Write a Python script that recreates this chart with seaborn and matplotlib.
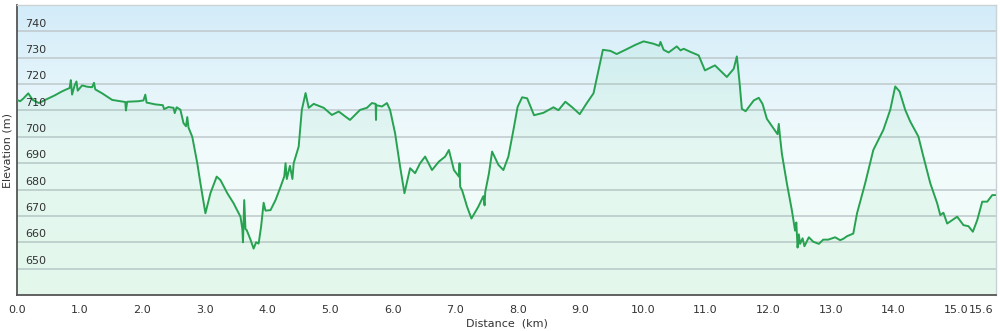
import numpy as np
import matplotlib
matplotlib.use("Agg")
import matplotlib.pyplot as plt
from matplotlib.colors import LinearSegmentedColormap
import seaborn as sns

# ---- data ----
distance_km = [
    0.00, 0.05, 0.10, 0.18, 0.25, 0.35, 0.45, 0.61, 0.70, 0.77, 0.84, 0.86, 0.88, 0.92, 0.95, 0.97,
    1.04, 1.12, 1.20, 1.23, 1.25, 1.36, 1.52, 1.65, 1.73, 1.74, 1.76, 1.94, 2.02, 2.05, 2.07, 2.21,
    2.33, 2.35, 2.42, 2.50, 2.52, 2.55, 2.61, 2.66, 2.70, 2.72, 2.74, 2.80, 2.88, 2.93, 3.01, 3.09,
    3.19, 3.25, 3.36, 3.46, 3.57, 3.60, 3.61, 3.63, 3.65, 3.67, 3.73, 3.78, 3.82, 3.86, 3.90, 3.94,
    3.97, 4.05, 4.13, 4.21, 4.27, 4.29, 4.31, 4.36, 4.40, 4.42, 4.50, 4.55, 4.61, 4.66, 4.74, 4.90,
    5.03, 5.14, 5.245, 5.32, 5.48, 5.59, 5.67, 5.73, 5.735, 5.74, 5.83, 5.91, 5.96, 6.04, 6.12, 6.19,
    6.28, 6.36, 6.44, 6.52, 6.63, 6.74, 6.84, 6.90, 6.98, 7.06, 7.07, 7.08, 7.11, 7.19, 7.26, 7.37,
    7.45, 7.47, 7.48, 7.54, 7.59, 7.69, 7.77, 7.85, 7.93, 7.998, 8.07, 8.15, 8.26, 8.41, 8.57, 8.65,
    8.76, 8.87, 8.99, 9.10, 9.21, 9.29, 9.36, 9.48, 9.58, 9.72, 9.88, 10.01, 10.17, 10.26, 10.28, 10.33,
    10.41, 10.54, 10.60, 10.65, 10.76, 10.89, 10.99, 11.15, 11.34, 11.45, 11.50, 11.54, 11.58, 11.64, 11.77, 11.85,
    11.91, 11.98, 12.09, 12.15, 12.17, 12.19, 12.22, 12.30, 12.38, 12.43, 12.45, 12.47, 12.49, 12.51, 12.55, 12.58,
    12.65, 12.72, 12.81, 12.88, 12.96, 13.07, 13.15, 13.20, 13.26, 13.36, 13.42, 13.55, 13.68, 13.84, 13.95, 14.03,
    14.10, 14.19, 14.27, 14.40, 14.48, 14.59, 14.70, 14.75, 14.80, 14.86, 15.02, 15.12, 15.20, 15.27, 15.34, 15.42,
    15.50, 15.58, 15.63,
]
elevation_m = [
    714.0, 713.5, 714.5, 716.5, 714.0, 712.8, 714.0, 715.8, 717.0, 717.8, 718.5, 721.5, 716.0, 719.5, 721.0, 717.5,
    719.5, 719.0, 718.8, 720.5, 718.0, 716.5, 714.0, 713.5, 713.2, 710.0, 713.3, 713.5, 713.8, 716.0, 713.0, 712.3,
    712.0, 710.5, 711.3, 711.0, 709.0, 711.2, 710.3, 705.2, 704.0, 707.5, 703.5, 700.0, 690.0, 682.4, 671.0, 678.6,
    684.9, 683.6, 678.6, 674.8, 669.7, 665.0, 660.0, 676.0, 665.0, 664.6, 661.0, 657.6, 660.0, 659.5, 666.0, 675.0,
    672.0, 672.2, 676.0, 681.0, 685.0, 690.0, 684.0, 689.0, 684.0, 690.0, 696.3, 710.2, 716.6, 711.0, 712.5, 711.0,
    708.3, 709.6, 707.7, 706.4, 710.2, 711.0, 712.8, 712.5, 706.4, 712.0, 711.5, 712.8, 710.2, 701.4, 688.7, 678.6,
    688.1, 686.2, 690.0, 692.5, 687.4, 690.6, 692.5, 695.0, 687.4, 684.9, 690.0, 681.0, 679.8, 673.5, 669.0, 673.5,
    677.5, 674.0, 679.0, 686.2, 694.4, 689.4, 687.4, 692.5, 702.5, 711.4, 715.0, 714.6, 708.2, 709.1, 711.2, 710.1,
    713.3, 711.2, 708.6, 712.7, 716.5, 725.4, 733.0, 732.6, 731.4, 733.0, 734.9, 736.2, 735.3, 734.5, 736.0, 733.0,
    732.0, 734.3, 732.8, 733.4, 732.2, 730.9, 725.2, 727.1, 722.7, 725.8, 730.5, 721.4, 710.6, 709.7, 713.8, 714.8,
    712.5, 706.8, 703.0, 701.0, 704.9, 699.9, 693.5, 682.2, 672.0, 664.4, 667.5, 658.0, 663.0, 659.4, 661.5, 658.5,
    661.9, 660.2, 659.4, 661.0, 661.0, 661.9, 660.8, 661.3, 662.3, 663.3, 671.0, 682.4, 695.0, 702.6, 710.2, 719.1,
    717.2, 710.2, 705.8, 700.1, 692.5, 682.4, 674.8, 670.3, 671.2, 667.1, 669.7, 666.5, 666.1, 664.0, 668.4, 675.4,
    675.4, 677.9, 677.9,
]
x_ticks = [0, 1, 2, 3, 4, 5, 6, 7, 8, 9, 10, 11, 12, 13, 14, 15, 15.6]
x_tick_labels = ["0.0", "1.0", "2.0", "3.0", "4.0", "5.0", "6.0", "7.0", "8.0",
                 "9.0", "10.0", "11.0", "12.0", "13.0", "14.0", "15.0", "15.6"]
y_gridlines = [650, 660, 670, 680, 690, 700, 710, 720, 730, 740]
y_labels = ["650", "660", "670", "680", "690", "700", "710", "720", "730", "740"]

X_MAX = 15.64
Y_MIN, Y_MAX = 640, 750

sns.set_style("white")
plt.rcParams["font.family"] = ["DejaVu Sans"]

fig = plt.figure(figsize=(10, 3.31), dpi=100)
ax = fig.add_axes([0.017, 1 - 295 / 331, 0.979, (295 - 5) / 331])

# background gradient (blue top -> nearly white -> mint bottom)
cmap = LinearSegmentedColormap.from_list("bg", ["#f0fcf5", "#f2fbfc", "#d3ecf9"])
grad = np.linspace(0, 1, 256).reshape(-1, 1)
ax.imshow(grad, extent=[0, X_MAX, Y_MIN, Y_MAX], origin="lower", aspect="auto",
          cmap=cmap, zorder=0)

# horizontal gridlines + inside labels
for v, lab in zip(y_gridlines, y_labels):
    ax.axhline(v, color="#bfc8cb", lw=1.1, zorder=1)
    ax.annotate(lab, xy=(0, v), xycoords=("axes fraction", "data"),
                xytext=(6, 2), textcoords="offset points",
                ha="left", va="bottom", fontsize=8, color="#333333", zorder=4)

# area fill under the profile
ax.fill_between(distance_km, elevation_m, Y_MIN, color="#52d07e", alpha=0.08,
                lw=0, zorder=2)

sns.lineplot(x=distance_km, y=elevation_m, sort=False, estimator=None,
             color="#27a251", lw=1.4, ax=ax, zorder=3)

ax.set_xlim(0, X_MAX)
ax.set_ylim(Y_MIN, Y_MAX)
ax.set_xticks(x_ticks)
ax.set_xticklabels(x_tick_labels, fontsize=8, color="#333333")
ax.get_xticklabels()[-1].set_horizontalalignment("right")
ax.set_yticks([])
ax.tick_params(axis="x", direction="out", length=4, width=1, color="#555555", pad=3)
ax.set_xlabel("Distance  (km)", fontsize=8, color="#333333", labelpad=3)
ax.set_ylabel("Elevation (m)", fontsize=8, color="#333333", labelpad=3)

for side in ["left", "bottom"]:
    ax.spines[side].set_color("#555555")
    ax.spines[side].set_linewidth(1.3)
for side in ["top", "right"]:
    ax.spines[side].set_color("#c9d3d6")
    ax.spines[side].set_linewidth(1)
    ax.spines[side].set_visible(True)

fig.savefig("out.png", dpi=100)
